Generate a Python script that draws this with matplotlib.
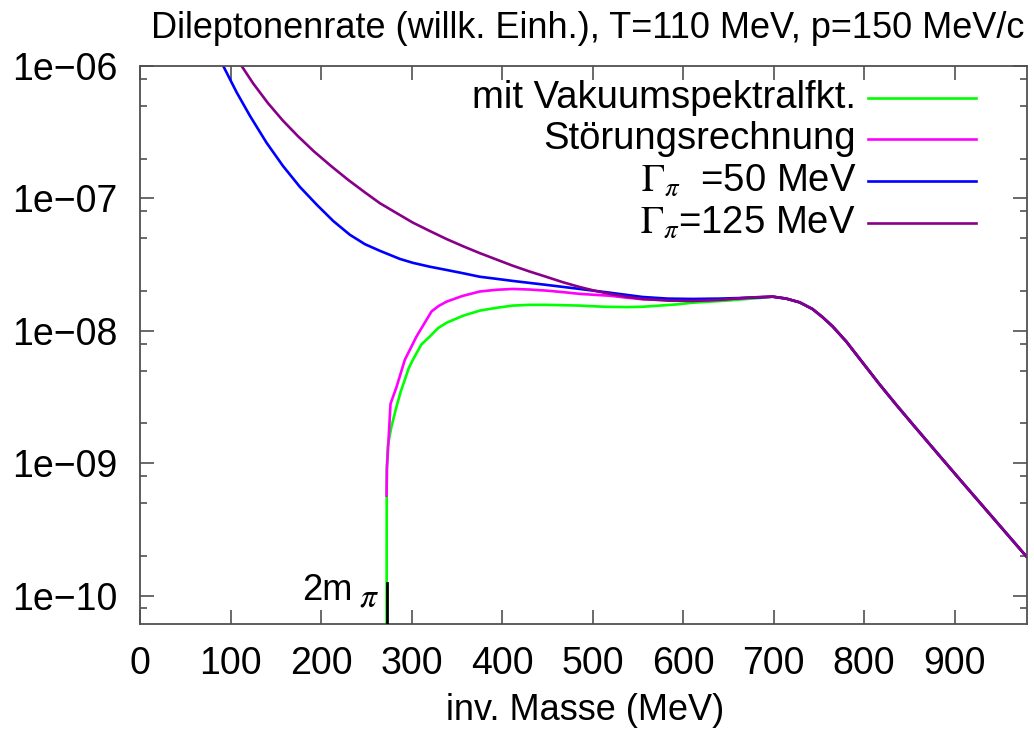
import matplotlib
matplotlib.use("Agg")
import matplotlib.pyplot as plt
from matplotlib.ticker import FixedLocator, FixedFormatter, NullFormatter

plt.rcParams['font.family'] = ['Liberation Sans', 'DejaVu Sans']
plt.rcParams['mathtext.fontset'] = 'stix'

two_m_pi = 272.4

# above ~700 MeV all four rates coincide
mass_tail = [699.0, 714.0, 728.8, 743.0, 754.0, 765.2, 780.3, 798.4, 817.1, 835.0,
             853.6, 880.0, 908.8, 945.0, 985.0]
rate_tail = [1.81e-8, 1.75e-8, 1.64e-8, 1.46e-8, 1.27e-8, 1.08e-8, 8.30e-9, 5.75e-9, 3.94e-9, 2.79e-9,
             1.97e-9, 1.21e-9, 7.13e-10, 3.69e-10, 1.78e-10]

# vacuum spectral function
mass_vac = [272.4, 272.6, 273.9, 275.8, 277.9, 283.5, 288.0, 292.6, 297.0, 301.5,
            310.8, 320.2, 329.5, 338.7, 357.0, 375.4, 393.6, 411.9, 430.0, 449.4,
            485.9, 512.0, 537.8, 556.0, 574.2, 592.0, 610.6, 629.0, 648.2, 666.0, 684.6]
rate_vac = [1e-11, 8.9e-10, 1.34e-9, 1.61e-9, 1.90e-9, 2.69e-9, 3.46e-9, 4.27e-9, 5.24e-9, 6.04e-9,
            7.87e-9, 9.06e-9, 1.05e-8, 1.15e-8, 1.30e-8, 1.42e-8, 1.49e-8, 1.55e-8, 1.57e-8, 1.57e-8,
            1.55e-8, 1.52e-8, 1.51e-8, 1.52e-8, 1.55e-8, 1.58e-8, 1.63e-8, 1.66e-8, 1.69e-8, 1.73e-8, 1.77e-8]

# perturbative result
mass_pert = [272.4, 272.9, 276.8, 283.5, 292.6, 305.5, 322.1, 330.0, 338.7, 356.0,
             375.4, 393.6, 411.9, 430.0, 449.4, 467.0, 485.9, 502.0, 519.0, 537.0,
             555.4, 583.0, 610.6, 640.0, 665.9, 685.0]
rate_pert = [5.69e-10, 9.4e-10, 2.81e-9, 3.78e-9, 6.04e-9, 9.06e-9, 1.40e-8, 1.54e-8, 1.66e-8, 1.83e-8,
             1.98e-8, 2.04e-8, 2.07e-8, 2.05e-8, 2.01e-8, 1.96e-8, 1.90e-8, 1.87e-8, 1.84e-8, 1.78e-8,
             1.73e-8, 1.71e-8, 1.70e-8, 1.72e-8, 1.76e-8, 1.79e-8]

# pion width 50 MeV
mass_g50 = [85.0, 92.0, 106.7, 121.5, 139.7, 157.9, 176.7, 195.5, 213.7, 231.9,
            248.5, 265.0, 287.1, 301.5, 320.0, 338.7, 357.0, 375.4, 393.6, 411.9,
            449.4, 485.9, 519.0, 555.4, 583.0, 610.6, 640.0, 665.9, 685.0]
rate_g50 = [1.25e-6, 1.0e-6, 6.34e-7, 4.20e-7, 2.64e-7, 1.76e-7, 1.22e-7, 8.93e-8, 6.73e-8, 5.31e-8,
            4.51e-8, 4.02e-8, 3.49e-8, 3.26e-8, 3.05e-8, 2.88e-8, 2.72e-8, 2.56e-8, 2.47e-8, 2.38e-8,
            2.22e-8, 2.07e-8, 1.94e-8, 1.80e-8, 1.75e-8, 1.74e-8, 1.75e-8, 1.77e-8, 1.79e-8]

# pion width 125 MeV
mass_g125 = [100.0, 112.3, 125.0, 141.3, 158.0, 174.5, 192.0, 210.9, 230.0, 248.5,
             265.0, 283.0, 301.5, 320.0, 339.0, 357.0, 375.4, 393.6, 411.9, 430.0,
             449.4, 467.0, 485.9, 502.0, 519.0, 537.0, 555.4, 583.0, 610.6, 640.0,
             665.9, 685.0]
rate_g125 = [1.39e-6, 1.0e-6, 7.39e-7, 5.25e-7, 3.86e-7, 2.95e-7, 2.27e-7, 1.76e-7, 1.38e-7, 1.11e-7,
             9.20e-8, 7.78e-8, 6.56e-8, 5.68e-8, 4.92e-8, 4.35e-8, 3.86e-8, 3.46e-8, 3.10e-8, 2.81e-8,
             2.55e-8, 2.33e-8, 2.14e-8, 2.01e-8, 1.90e-8, 1.81e-8, 1.74e-8, 1.69e-8, 1.68e-8, 1.71e-8,
             1.77e-8, 1.80e-8]

labels = ['mit Vakuumspektralfkt.', 'Störungsrechnung',
          r'$\Gamma_\pi$  =50 MeV', r'$\Gamma_\pi$=125 MeV']
colors = ['#00ff00', '#ff00ff', '#0000ff', '#880088']

ytick_vals = [1e-10, 1e-9, 1e-8, 1e-7, 1e-6]
ytick_labels = ['1e\u221210', '1e\u221209', '1e\u221208', '1e\u221207', '1e\u221206']
xtick_vals = [0, 100, 200, 300, 400, 500, 600, 700, 800, 900]

fig = plt.figure(figsize=(10.34, 7.31), dpi=100)
W, H = 1034, 731
ax = fig.add_axes([140 / W, 1 - 624 / H, (1027 - 140) / W, (624 - 66) / H])
ax.set_yscale('log')

series = [(mass_vac, rate_vac), (mass_pert, rate_pert), (mass_g50, rate_g50), (mass_g125, rate_g125)]
for i, (m, r) in enumerate(series):
    ax.plot(list(m) + mass_tail, list(r) + rate_tail, color=colors[i], lw=1.9,
            zorder=2 + 0.1 * i, solid_joinstyle='round')

# threshold marker
ax.plot([two_m_pi, two_m_pi], [1e-11, 1.25e-10], color='black', lw=2.0, zorder=3)
ax.text(234.5, 9.3e-11, '2m', ha='right', va='baseline', fontsize=26)
ax.text(263.5, 8.3e-11, r'$\pi$', ha='right', va='baseline', fontsize=24)

ax.set_xlim(0, 980)
ax.set_ylim(6.1e-11, 1e-6)

ax.xaxis.set_major_locator(FixedLocator(xtick_vals))
ax.yaxis.set_major_locator(FixedLocator(ytick_vals))
ax.yaxis.set_major_formatter(FixedFormatter(ytick_labels))
minor = [s * 10.0 ** e for e in range(-11, -6) for s in (2, 5, 8)]
ax.yaxis.set_minor_locator(FixedLocator(minor))
ax.yaxis.set_minor_formatter(NullFormatter())
ax.xaxis.set_minor_locator(FixedLocator([]))

ax.tick_params(which='both', direction='in', top=True, right=True, color='#505050', width=1.2)
ax.tick_params(which='major', length=10)
ax.tick_params(which='minor', length=5)
ax.tick_params(axis='x', labelsize=27, pad=16)
ax.tick_params(axis='y', labelsize=27, pad=16)
for sp in ax.spines.values():
    sp.set_color('#505050')
    sp.set_linewidth(1.3)

# key, text right-aligned in front of the line samples
row_y = [97.7, 139.3, 181.0, 222.7]
for lab, col, yp in zip(labels, colors, row_y):
    ya = 1 - (yp - 66) / (624 - 66)
    ax.plot([(868 - 140) / 887, (976 - 140) / 887], [ya, ya], transform=ax.transAxes,
            color=col, lw=1.9)
    ax.text((856 - 140) / 887, ya, lab, transform=ax.transAxes, ha='right', va='center',
            fontsize=27.5)

fig.text(588 / W, 1 - 28 / H, 'Dileptonenrate (willk. Einh.), T=110 MeV, p=150 MeV/c',
         ha='center', va='center', fontsize=26)
fig.text(585 / W, 1 - 711 / H, 'inv. Masse (MeV)', ha='center', va='center', fontsize=26)

fig.savefig('out.png', dpi=100)
